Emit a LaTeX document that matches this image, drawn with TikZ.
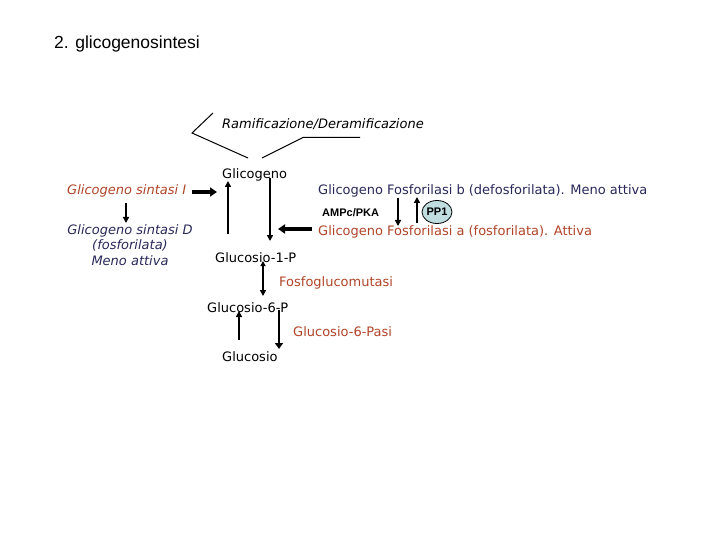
\documentclass[tikz,border=0pt]{standalone}
\usepackage{fontspec}
\setmainfont{DejaVu Sans}
\newfontfamily\arialf{Liberation Sans}
\usetikzlibrary{arrows.meta,shapes.geometric}
\definecolor{redtxt}{RGB}{176,68,40}
\definecolor{navytxt}{RGB}{40,40,90}
\definecolor{ppfill}{RGB}{192,222,224}
\tikzset{
  lbl/.style={inner sep=0pt,font=\fontsize{13}{15}\selectfont},
  ilbl/.style={lbl,font=\fontsize{13}{15}\selectfont\itshape},
  thin arrow/.style={line width=1.6pt,-{Triangle[length=6pt,width=6pt]}},
  thick arrow/.style={line width=3.5pt,-{Triangle[length=7pt,width=9pt]}},
  bracket line/.style={line width=1pt},
}
\begin{document}
\begin{tikzpicture}[x=1pt,y=-1pt]
\useasboundingbox (0,0) rectangle (720,540);
\node[inner sep=0pt,anchor=west,font=\arialf\fontsize{17.5}{20}\selectfont] (title) at (54,44) {2. glicogenosintesi};

% Ramificazione
\node[ilbl,anchor=west] (ram) at (222,124) {Ramificazione/Deramificazione};
\coordinate (r1) at (213,113);
\coordinate (r2) at (192,133);
\coordinate (r3) at (248,158);
\coordinate (r4) at (262,158);
\coordinate (r5) at (303,137.5);
\coordinate (r6) at (360,137.5);
\draw[bracket line] (r1) -- (r2) -- (r3);
\draw[bracket line] (r4) -- (r5) -- (r6);

% Central chain
\node[lbl,anchor=west] (glic) at (222,175) {Glicogeno};
\node[lbl,anchor=west] (g1p) at (215,258) {Glucosio-1-P};
\node[lbl,anchor=west] (g6p) at (207,308) {Glucosio-6-P};
\node[lbl,anchor=west] (gluc) at (222,357) {Glucosio};
\node[lbl,anchor=west,text=redtxt] (pgm) at (279,283) {Fosfoglucomutasi};
\node[lbl,anchor=west,text=redtxt] (g6pasi) at (293,332) {Glucosio-6-Pasi};

\coordinate (a1s) at (228,234); \coordinate (a1e) at (228,181);
\draw[thin arrow] (a1s) -- (a1e);
\coordinate (a2s) at (270,178); \coordinate (a2e) at (270,241);
\draw[thin arrow] (a2s) -- (a2e);
\coordinate (a3s) at (263,261); \coordinate (a3e) at (263,296);
\draw[line width=1.6pt,{Triangle[length=5pt,width=5pt]}-{Triangle[length=6pt,width=6pt]}] (a3s) -- (a3e);
\coordinate (a4s) at (239,340); \coordinate (a4e) at (239,311);
\draw[thin arrow] (a4s) -- (a4e);
\coordinate (a5s) at (279,310); \coordinate (a5e) at (279,349);
\draw[line width=2.8pt,-{Triangle[length=6pt,width=8pt]}] (a5s) -- (a5e);

% Left side
\node[ilbl,anchor=west,text=redtxt] (gsI) at (67,191) {Glicogeno sintasi I};
\node[ilbl,align=center,text=navytxt,font=\fontsize{13}{15.5}\selectfont\itshape] (gsD) at (130,245) {Glicogeno sintasi D\\(fosforilata)\\Meno attiva};
\coordinate (b1s) at (192,192); \coordinate (b1e) at (217,192);
\draw[thick arrow] (b1s) -- (b1e);
\coordinate (b2s) at (126,203); \coordinate (b2e) at (126,223);
\draw[thin arrow] (b2s) -- (b2e);

% Right side
\node[lbl,anchor=west,text=navytxt] (gfb) at (318,191) {Glicogeno Fosforilasi b (defosforilata). Meno attiva};
\node[lbl,anchor=west,text=redtxt] (gfa) at (318,232) {Glicogeno Fosforilasi a (fosforilata). Attiva};
\node[inner sep=0pt,anchor=west,font=\arialf\bfseries\fontsize{11}{13}\selectfont] (pka) at (322,213) {AMPc/PKA};
\node[ellipse,draw,line width=0.8pt,fill=ppfill,minimum width=30pt,minimum height=23pt,inner sep=0pt,font=\arialf\bfseries\fontsize{11}{13}\selectfont] (pp1) at (437,212) {PP1};
\coordinate (c1s) at (312,229); \coordinate (c1e) at (278,229);
\draw[thick arrow] (c1s) -- (c1e);
\coordinate (c2s) at (398,198); \coordinate (c2e) at (398,226);
\draw[thin arrow] (c2s) -- (c2e);
\coordinate (c3s) at (417,223); \coordinate (c3e) at (417,197);
\draw[thin arrow] (c3s) -- (c3e);
\end{tikzpicture}
\end{document}
